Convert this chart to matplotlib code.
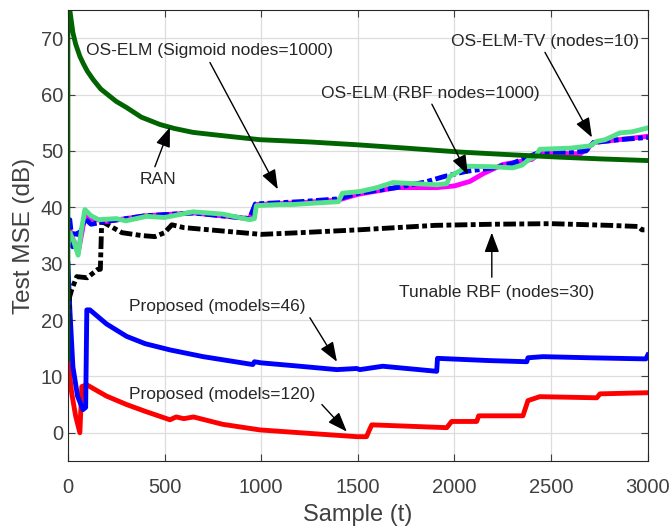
import matplotlib.pyplot as plt
import numpy as np

plt.rcParams['font.family'] = ['Liberation Sans', 'DejaVu Sans']

# RAN
ran_x = [0, 0, 5, 10, 26, 40, 62, 80, 100, 130, 170, 217, 250, 304, 380, 476, 550, 647,
         750, 993, 1250, 1495, 1750, 2032, 2250, 2545, 2750, 3000]
ran_y = [13, 80, 76, 75, 71, 69, 66.8, 65.5, 64.2, 62.7, 61, 59.7, 58.8, 57.7, 56, 54.7,
         54, 53.3, 52.9, 52.0, 51.6, 51.1, 50.5, 49.8, 49.4, 48.9, 48.6, 48.3]

# OS-ELM (Sigmoid nodes=1000)
sig_x = [0, 10, 25, 40, 60, 88, 120, 200, 400, 650, 940, 970, 1200, 1400, 1500, 1700,
         1850, 1950, 2064, 2200, 2300, 2441, 2600, 2680, 2720, 2850, 3000]
sig_y = [37.5, 37.8, 33, 36, 35, 38, 37, 37.5, 38.5, 39, 38, 40.6, 41, 41.5, 42.5, 43.5,
         44.5, 45.5, 46.4, 47, 47.8, 49.8, 49.8, 50, 51.5, 52, 52.4]

# OS-ELM (RBF nodes=1000)
rbf_x = [0, 10, 30, 53, 70, 88, 120, 200, 400, 650, 940, 970, 1200, 1400, 1500, 1700,
         1909, 2000, 2080, 2150, 2250, 2400, 2441, 2650, 2690, 2720, 2800, 2900, 3000]
rbf_y = [37, 36, 34, 32, 35, 38.5, 38, 37.5, 38.5, 39, 38, 40.5, 40.8, 41.3, 42.3, 43.5,
         43.5, 43.8, 44.6, 46, 47.6, 48.5, 49.6, 49.5, 50.5, 51.5, 51.8, 52.2, 52.6]

# OS-ELM-TV (nodes=10)
tv_x = [0, 10, 30, 53, 70, 88, 120, 160, 250, 300, 407, 500, 647, 800, 940, 965, 975,
        1100, 1165, 1300, 1400, 1420, 1510, 1600, 1681, 1800, 1909, 1960, 1976, 2030,
        2064, 2200, 2302, 2350, 2385, 2420, 2441, 2600, 2700, 2736, 2780, 2855, 2920, 3000]
tv_y = [33, 35.5, 34, 31.5, 36, 39.6, 38.5, 37.8, 38, 37.6, 38.4, 38.2, 39.2, 38.8, 37.8,
        38, 40.3, 40.5, 40.5, 40.8, 41, 42.5, 42.8, 43.5, 44.4, 44.2, 44, 44.2, 45.5, 46.5,
        47.3, 47.2, 47.0, 47.5, 48.5, 49, 50.3, 50.5, 50.9, 51.7, 52, 53.2, 53.4, 54.1]

# Tunable RBF (nodes=30)
tun_x = [0, 8, 20, 46, 100, 155, 168, 175, 280, 380, 450, 500, 538, 600, 800, 1000,
         1200, 1500, 1700, 1900, 2200, 2500, 2800, 2950, 2970, 3000]
tun_y = [19, 24, 25.4, 27.7, 27.5, 29, 29, 37.5, 35.5, 35, 34.8, 35.5, 36.9, 36.4, 35.8,
         35.2, 35.5, 36, 36.4, 36.8, 37, 37.1, 36.8, 36.6, 36, 36]

# Proposed (models=46)
p46_x = [0, 10, 26, 50, 78, 92, 98, 114, 200, 304, 400, 528, 700, 957, 965, 1000, 1200,
         1391, 1495, 1510, 1629, 1908, 1912, 2183, 2374, 2380, 2457, 2700, 2990, 3000]
p46_y = [30, 22, 11.7, 6.5, 4.1, 4.5, 21.8, 21.8, 19.3, 17.1, 15.8, 14.7, 13.5, 12.1, 12.6,
         12.4, 11.8, 11.2, 11.4, 11.2, 11.8, 10.9, 13.2, 12.8, 12.6, 13.3, 13.5, 13.3, 13.1, 13.8]

# Proposed (models=120)
p120_x = [0, 20, 40, 62, 72, 98, 200, 304, 400, 528, 560, 600, 650, 800, 993, 1200, 1495,
          1545, 1560, 1572, 1960, 1985, 2115, 2125, 2354, 2380, 2441, 2736, 2753, 3000]
p120_y = [13, 7, 3, 0, 8.2, 8.5, 6.5, 5.0, 3.8, 2.3, 2.8, 2.5, 2.8, 1.5, 0.5, 0, -0.7,
          -0.7, 0.5, 1.4, 0.9, 2.0, 2.0, 3.0, 3.0, 5.7, 6.4, 6.2, 6.9, 7.1]

fig, ax = plt.subplots(figsize=(6.72, 5.31), dpi=100)
fig.subplots_adjust(left=0.101, right=0.964, bottom=0.132, top=0.981)

lw = 3.5
dashdot = (0, (2.6, 0.7, 1.0, 0.7))
ax.plot(p120_x, p120_y, color='#ff0000', lw=lw)
ax.plot(p46_x, p46_y, color='#0000ff', lw=lw)
ax.plot(tun_x, tun_y, color='black', lw=lw, ls=dashdot)
ax.plot(rbf_x, rbf_y, color='#ff00ff', lw=lw)
ax.plot(sig_x, sig_y, color='#0000ff', lw=lw, ls=dashdot)
ax.plot(tv_x, tv_y, color='#55e08a', lw=lw)
ax.plot(ran_x, ran_y, color='#006400', lw=lw)

ax.set_xlim(0, 3000)
ax.set_ylim(-5, 75)
ax.set_xticks(np.arange(0, 3001, 500))
ax.set_yticks(np.arange(0, 71, 10))
ax.grid(True, color='#dddddd', lw=0.9)
ax.set_axisbelow(True)
ax.tick_params(direction='in', top=True, right=True, labelsize=14.5, colors='#404040',
               length=5, width=0.8)
ax.tick_params(axis='x', pad=12)
for s in ax.spines.values():
    s.set_color('#262626')
    s.set_linewidth(0.8)
ax.set_xlabel('Sample (t)', fontsize=17, color='#404040', labelpad=5)
ax.set_ylabel('Test MSE (dB)', fontsize=17.5, color='#404040', labelpad=4)

arrow = dict(arrowstyle='-|>,head_length=1.2,head_width=0.45', color='black', lw=1.0,
             shrinkA=0, shrinkB=0)
notes = [
    ('OS-ELM (Sigmoid nodes=1000)', (735, 65.7), (1086, 43.2), (735, 67.8)),
    ('RAN', (450, 47.2), (528, 54.2), (466, 44.9)),
    ('OS-ELM (RBF nodes=1000)', (1883, 58.3), (2069, 45.8), (1873, 60.2)),
    ('OS-ELM-TV (nodes=10)', (2468, 67.5), (2711, 52.4), (2468, 69.4)),
    ('Tunable RBF (nodes=30)', (2193, 27.6), (2193, 35.5), (2219, 24.9)),
    ('Proposed (models=46)', (1252, 20.4), (1392, 12.6), (771, 22.4)),
    ('Proposed (models=120)', (1314, 5.0), (1443, 0.2), (797, 6.7)),
]
for label, tail, head, pos in notes:
    ax.annotate('', xy=head, xytext=tail, arrowprops=arrow)
    ax.text(pos[0], pos[1], label, ha='center', va='center', fontsize=12.5, color='#262626')

fig.savefig('out.png', dpi=100)
